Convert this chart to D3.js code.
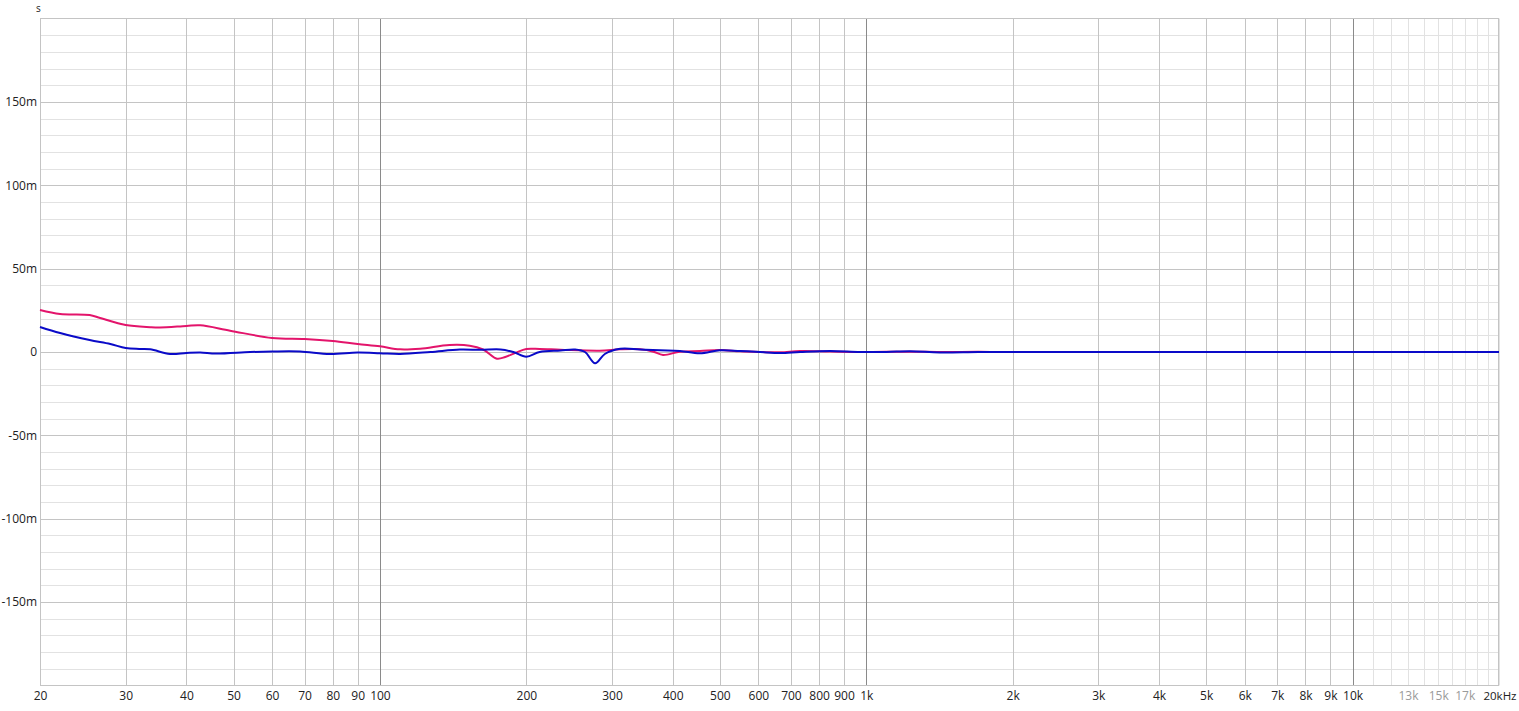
<!DOCTYPE html>
<html><head><meta charset="utf-8">
<script src="https://cdn.jsdelivr.net/npm/d3@7"></script>
<style>
html,body{margin:0;padding:0;background:#fff;}
svg{display:block;font-family:"Open Sans","Noto Sans",sans-serif;}
</style></head><body>
<svg id="c" width="1519" height="711"></svg>
<script>
// Frequencies (Hz) and group delay (ms)
const redFreq = [20,22,25.3,26.6,30,33.7,35.3,40,42.7,49.2,60,70,80,90,100,110,121,139,153,163,174,181,190,200,213,235,283,312,343,365,382,414,455,500,550,605,665,731,842,971,1230,1416,1700,2000,3000,5000,10000,20000];
const redVals = [25.2,22.8,22.2,20.4,16.2,14.9,14.7,15.6,16.0,12.8,8.4,7.8,6.6,4.8,3.4,1.6,2.0,4.2,3.8,1.5,-4.0,-3.0,-0.5,1.8,1.8,1.4,0.8,1.6,1.6,0.2,-1.8,0.2,0.6,1.2,0.4,0,-0.2,0.6,0.3,0,0.2,0,0.1,0,0,0,0,0];
const blueFreq = [20,22,25.3,27.9,30,32,33.7,37,40,42.7,46,54.1,60,68.5,78.9,90,100,110,127,146,161,177,188,200,213,235,252,264,277,290,312,343,377,414,455,500,550,605,665,731,842,971,1100,1230,1416,1700,2000,3000,5000,10000,20000];
const blueVals = [15,11.4,7.2,4.8,2.4,1.8,1.6,-1.2,-0.6,-0.3,-0.9,0,0.3,0.3,-1.2,-0.3,-0.7,-1.2,0,1.5,1.3,1.5,0,-2.8,0,0.9,1.5,0,-6.8,-1.2,1.9,1.5,1.0,0.6,-0.8,1.0,0.6,0,-0.6,0,0.6,0,0,0.5,-0.3,0,0,0,0,0,0];
const xTickVals = [20,30,40,50,60,70,80,90,100,200,300,400,500,600,700,800,900,1000,2000,3000,4000,5000,6000,7000,8000,9000,10000,13000,15000,17000,20000];
const xTickLabels = ["20","30","40","50","60","70","80","90","100","200","300","400","500","600","700","800","900","1k","2k","3k","4k","5k","6k","7k","8k","9k","10k","13k","15k","17k","20kHz"];
const yTickVals = [150,100,50,0,-50,-100,-150];
const yTickLabels = ["150m","100m","50m","0","-50m","-100m","-150m"];

const L=40, R=1499, T=18.5, B=685.5;
const svg = d3.select("#c");
const x = d3.scaleLog().domain([20,20000]).range([L,R]);
const y = d3.scaleLinear().domain([-200,200]).range([B,T]);

const g = svg.append("g");
// horizontal grid every 10 ms
for (let v=-190; v<=190; v+=10){
  const major = v%50===0;
  g.append("line").attr("x1",L).attr("x2",R)
    .attr("y1",Math.round(y(v))+0.5).attr("y2",Math.round(y(v))+0.5)
    .attr("stroke", major? "#c4c4c4" : "#e2e2e2").attr("stroke-width",1);
}
// vertical grid
const vlines=[];
for (let d=10; d<=10000; d*=10){
  for (let m=1;m<=9;m++){ const f=m*d; if(f>=20 && f<=20000) vlines.push(f); }
}
for (let f=11000; f<=19000; f+=1000) vlines.push(f);
vlines.forEach(f=>{
  const dec = (f===100||f===1000||f===10000);
  const minor = f>10000;
  g.append("line").attr("y1",T).attr("y2",B)
    .attr("x1",Math.round(x(f))+0.5).attr("x2",Math.round(x(f))+0.5)
    .attr("stroke", dec? "#8a8a8a" : (minor? "#e2e2e2" : "#c4c4c4")).attr("stroke-width",1);
});
// border
g.append("rect").attr("x",L+0.5).attr("y",T).attr("width",R-L-1).attr("height",B-T)
  .attr("fill","none").attr("stroke","#c4c4c4");

// axes text
const yAxis = d3.axisLeft(y).tickValues(yTickVals).tickSize(0).tickPadding(3)
  .tickFormat((d,i)=>yTickLabels[i]);
const ya = svg.append("g").attr("transform",`translate(${L},0)`).call(yAxis);
ya.select(".domain").remove();
ya.selectAll("text").attr("font-size",12).attr("fill","#222").attr("font-family","Open Sans, Noto Sans, sans-serif");

const xAxis = d3.axisBottom(x).tickValues(xTickVals).tickSize(0).tickPadding(6)
  .tickFormat((d,i)=>xTickLabels[i]);
const xa = svg.append("g").attr("transform",`translate(0,${B})`).call(xAxis);
xa.select(".domain").remove();
xa.selectAll("text").attr("font-size",12).attr("font-family","Open Sans, Noto Sans, sans-serif")
  .attr("fill",d=>(d===13000||d===15000||d===17000)?"#9a9a9a":"#222");
xa.selectAll(".tick").filter(d=>d===20000).select("text")
  .attr("text-anchor","end").attr("dx",17).attr("font-size",11.5);

svg.append("text").attr("x",36).attr("y",12).attr("font-size",10).attr("fill","#222").text("s");

// curves
const line = d3.line().x(d=>x(d[0])).y(d=>y(d[1])).curve(d3.curveCatmullRom.alpha(0.5));
const redData = redFreq.map((f,i)=>[f,redVals[i]]);
const blueData = blueFreq.map((f,i)=>[f,blueVals[i]]);
svg.append("path").attr("d",line(redData)).attr("fill","none").attr("stroke","#e3146b").attr("stroke-width",2);
svg.append("path").attr("d",line(blueData)).attr("fill","none").attr("stroke","#0a0ac8").attr("stroke-width",2);
</script>
</body></html>
